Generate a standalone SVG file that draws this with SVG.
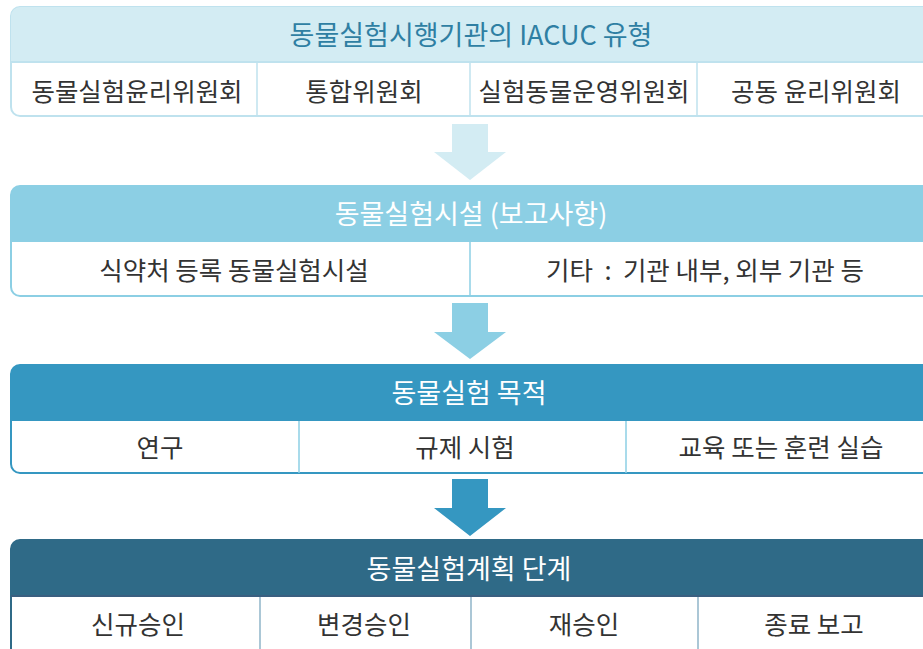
<svg xmlns="http://www.w3.org/2000/svg" width="923" height="649" viewBox="0 0 923 649">
<style>
text{font-family:"Noto Sans CJK KR","Noto Sans",sans-serif;text-anchor:middle;dominant-baseline:central}
.h{font-size:27px;fill:#fff}
.c{font-size:25.5px;fill:#333}
.frame{fill:#fff;stroke-width:2}
.div{stroke-width:1.5}
</style>
<rect width="923" height="649" fill="#fff"/>
<g id="connectors">
<polygon points="452,124 488,124 488,152 506,152 470,180 434,152 452,152" fill="#d3ecf3"/>
<polygon points="452,303 488,303 488,332 506,332 470,359 434,332 452,332" fill="#8ccfe4"/>
<polygon points="452,479 488,479 488,508 506,508 470,536 434,508 452,508" fill="#3597c1"/>
</g>
<g id="panel1">
<rect class="frame" x="11" y="7" width="930" height="109" rx="9" stroke="#bfe2ee"/>
<path d="M11,62 V16 a9,9 0 0 1 9,-9 H941 V62 Z" fill="#d3ecf3"/>
<line x1="11" y1="62" x2="941" y2="62" stroke="#bfe2ee" stroke-width="2"/>
<g class="div" stroke="#bfe2ee"><line x1="257" y1="62" x2="257" y2="116"/><line x1="470" y1="62" x2="470" y2="116"/><line x1="697" y1="62" x2="697" y2="116"/></g>
<text class="h" x="471" y="33" style="fill:#2f7fa3">동물실험시행기관의 IACUC 유형</text>
<text class="c" x="137" y="89">동물실험윤리위원회</text>
<text class="c" x="364" y="89">통합위원회</text>
<text class="c" x="584" y="89">실험동물운영위원회</text>
<text class="c" x="816" y="89">공동 윤리위원회</text>
</g>
<g id="panel2">
<rect class="frame" x="11" y="186" width="930" height="110" rx="9" stroke="#8ccfe4"/>
<path d="M11,242 V195 a9,9 0 0 1 9,-9 H941 V242 Z" fill="#8ccfe4"/>
<g class="div" stroke="#8ccfe4"><line x1="470" y1="242" x2="470" y2="296"/></g>
<text class="h" x="471" y="212">동물실험시설 (보고사항)</text>
<text class="c" x="234" y="268">식약처 등록 동물실험시설</text>
<text class="c" x="705" y="268">기타&#160; :&#160; 기관 내부, 외부 기관 등</text>
</g>
<g id="panel3">
<rect class="frame" x="11" y="365" width="930" height="108" rx="9" stroke="#3597c1"/>
<path d="M11,421 V374 a9,9 0 0 1 9,-9 H941 V421 Z" fill="#3597c1"/>
<g class="div" stroke="#8ccfe4"><line x1="299" y1="421" x2="299" y2="473"/><line x1="626" y1="421" x2="626" y2="473"/></g>
<text class="h" x="469" y="391">동물실험 목적</text>
<text class="c" x="160" y="445">연구</text>
<text class="c" x="465" y="445">규제 시험</text>
<text class="c" x="781" y="445">교육 또는 훈련 실습</text>
</g>
<g id="panel4">
<rect class="frame" x="11" y="540" width="930" height="120" rx="9" stroke="#2f6a87"/>
<path d="M11,596 V549 a9,9 0 0 1 9,-9 H941 V596 Z" fill="#2f6a87"/>
<line x1="11" y1="596" x2="941" y2="596" stroke="#3a5f80" stroke-width="2"/>
<g class="div" stroke="#8fb5c9"><line x1="260" y1="597" x2="260" y2="649"/><line x1="471" y1="597" x2="471" y2="649"/><line x1="698" y1="597" x2="698" y2="649"/></g>
<text class="h" x="469" y="567">동물실험계획 단계</text>
<text class="c" x="138" y="622">신규승인</text>
<text class="c" x="364" y="622">변경승인</text>
<text class="c" x="584" y="622">재승인</text>
<text class="c" x="814" y="622">종료 보고</text>
</g>
</svg>
